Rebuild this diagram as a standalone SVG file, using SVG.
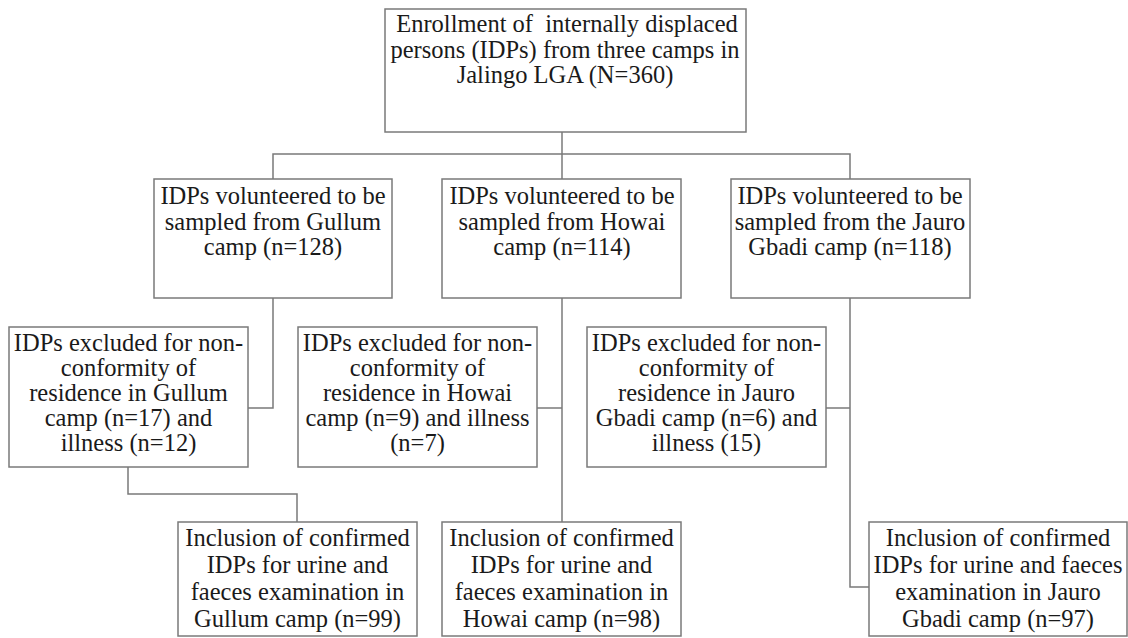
<svg xmlns="http://www.w3.org/2000/svg" width="1128" height="638" viewBox="0 0 1128 638">
<style>
.box{fill:#ffffff;stroke:#7a7a7a;stroke-width:1.5}
.con{fill:none;stroke:#7a7a7a;stroke-width:1.5}
.t{font-family:'Liberation Serif','DejaVu Serif',serif;font-size:24.5px;fill:#1a1a1a;text-anchor:middle}
</style>
<rect width="1128" height="638" fill="#ffffff"/>
<g id="connectors">
<path class="con" d="M562 132V179"/>
<path class="con" d="M273 179V154H850V179"/>
<path class="con" d="M273 298V408H248"/>
<path class="con" d="M128 467V494H297V522"/>
<path class="con" d="M562 298V522"/>
<path class="con" d="M537 408H562"/>
<path class="con" d="M850 298V587H882"/>
<path class="con" d="M826 408H850"/>
</g>
<g class="t" font-family="Liberation Serif, DejaVu Serif, serif">
<g id="enrollment">
<rect class="box" x="385" y="9" width="361" height="123"/>
<text x="567" y="32" xml:space="preserve">Enrollment of  internally displaced</text>
<text x="565" y="57.5">persons (IDPs) from three camps in</text>
<text x="565" y="83">Jalingo LGA (N=360)</text>
</g>
<g id="vol-gullum">
<rect class="box" x="154" y="179" width="238" height="119"/>
<text x="273" y="204">IDPs volunteered to be</text>
<text x="273" y="229.5">sampled from Gullum</text>
<text x="273" y="255">camp (n=128)</text>
</g>
<g id="vol-howai">
<rect class="box" x="442" y="179" width="239" height="119"/>
<text x="562" y="204">IDPs volunteered to be</text>
<text x="562" y="229.5">sampled from Howai</text>
<text x="562" y="255">camp (n=114)</text>
</g>
<g id="vol-jauro">
<rect class="box" x="731" y="179" width="239" height="119"/>
<text x="850" y="204">IDPs volunteered to be</text>
<text x="850" y="229.5">sampled from the Jauro</text>
<text x="850" y="255">Gbadi camp (n=118)</text>
</g>
<g id="excl-gullum">
<rect class="box" x="9" y="327" width="239" height="140"/>
<text x="128.5" y="351">IDPs excluded for non-</text>
<text x="128.5" y="376">conformity of</text>
<text x="128.5" y="401">residence in Gullum</text>
<text x="128.5" y="426">camp (n=17) and</text>
<text x="128.5" y="451">illness (n=12)</text>
</g>
<g id="excl-howai">
<rect class="box" x="298" y="327" width="239" height="140"/>
<text x="417.5" y="351">IDPs excluded for non-</text>
<text x="417.5" y="376">conformity of</text>
<text x="417.5" y="401">residence in Howai</text>
<text x="417.5" y="426">camp (n=9) and illness</text>
<text x="417.5" y="451">(n=7)</text>
</g>
<g id="excl-jauro">
<rect class="box" x="587" y="327" width="239" height="140"/>
<text x="706.5" y="351">IDPs excluded for non-</text>
<text x="706.5" y="376">conformity of</text>
<text x="706.5" y="401">residence in Jauro</text>
<text x="706.5" y="426">Gbadi camp (n=6) and</text>
<text x="706.5" y="451">illness (15)</text>
</g>
<g id="incl-gullum">
<rect class="box" x="178" y="522" width="239" height="114"/>
<text x="297.5" y="546">Inclusion of confirmed</text>
<text x="297.5" y="573">IDPs for urine and</text>
<text x="297.5" y="600">faeces examination in</text>
<text x="297.5" y="627">Gullum camp (n=99)</text>
</g>
<g id="incl-howai">
<rect class="box" x="442" y="522" width="239" height="114"/>
<text x="561.5" y="546">Inclusion of confirmed</text>
<text x="561.5" y="573">IDPs for urine and</text>
<text x="561.5" y="600">faeces examination in</text>
<text x="561.5" y="627">Howai camp (n=98)</text>
</g>
<g id="incl-jauro">
<rect class="box" x="869" y="522" width="258" height="114"/>
<text x="998" y="546">Inclusion of confirmed</text>
<text x="998" y="573">IDPs for urine and faeces</text>
<text x="998" y="600">examination in Jauro</text>
<text x="998" y="627">Gbadi camp (n=97)</text>
</g>
</g>
</svg>
